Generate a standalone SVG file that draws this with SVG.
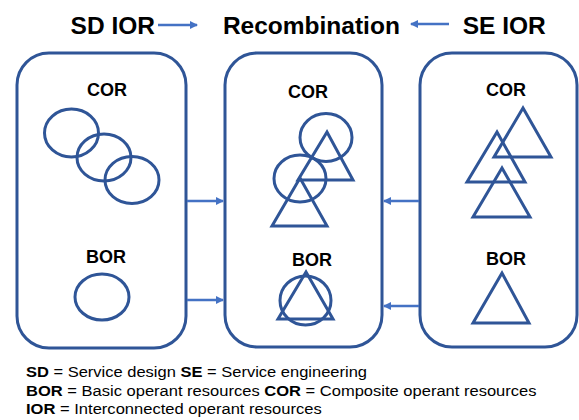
<svg xmlns="http://www.w3.org/2000/svg" width="579" height="420" viewBox="0 0 579 420">
<style>
.box{fill:#fff;stroke:#2F5597;stroke-width:3}
.sh{fill:none;stroke:#2F5597;stroke-width:3;stroke-linejoin:miter}
.lbl{font-family:"Liberation Sans",Arial,sans-serif;font-weight:bold;font-size:18px;fill:#000;text-anchor:middle}
.title{font-family:"Liberation Sans",Arial,sans-serif;font-weight:bold;font-size:24.5px;fill:#000;text-anchor:middle}
.note{font-family:"Liberation Sans",Arial,sans-serif;font-size:15.5px;fill:#000}
.note .b{font-weight:bold}
.con{stroke:#4472C4;stroke-width:2.5;fill:none}
</style>
<defs>
<marker id="ah" markerWidth="8" markerHeight="8" refX="7" refY="4" orient="auto" markerUnits="userSpaceOnUse">
<path d="M0,0 L8,4 L0,8 Z" fill="#4472C4"/>
</marker>
</defs>
<g id="titles">
<text class="title" x="112.8" y="34">SD IOR</text>
<text class="title" x="311.4" y="34">Recombination</text>
<text class="title" x="504.2" y="34">SE IOR</text>
</g>
<g id="node-sd">
<rect class="box" x="17" y="53" width="169" height="295" rx="32"/>
<text class="lbl" x="107" y="96">COR</text>
<ellipse class="sh" cx="71.5" cy="133" rx="27" ry="24"/>
<ellipse class="sh" cx="104" cy="157.5" rx="27" ry="23.5"/>
<ellipse class="sh" cx="132" cy="180" rx="27" ry="23.5"/>
<text class="lbl" x="106" y="263">BOR</text>
<ellipse class="sh" cx="102" cy="297" rx="27" ry="23"/>
</g>
<g id="node-recombination">
<rect class="box" x="225" y="53" width="157" height="294" rx="32"/>
<text class="lbl" x="308" y="98">COR</text>
<ellipse class="sh" cx="326" cy="137.5" rx="26" ry="24"/>
<path class="sh" d="M327,132 L298,180 L353,180 Z"/>
<ellipse class="sh" cx="300" cy="178.5" rx="26" ry="23.5"/>
<path class="sh" d="M300,178 L272,226 L327,226 Z"/>
<text class="lbl" x="312" y="266">BOR</text>
<ellipse class="sh" cx="305.5" cy="300.5" rx="25.5" ry="24.5"/>
<path class="sh" d="M306,272 L278,319 L333,319 Z"/>
</g>
<g id="node-se">
<rect class="box" x="420" y="53" width="157" height="294" rx="32"/>
<text class="lbl" x="506" y="96">COR</text>
<path class="sh" d="M523,108 L494,157 L551,157 Z"/>
<path class="sh" d="M497,132 L467,182 L525,182 Z"/>
<path class="sh" d="M502,168 L473,217 L530,217 Z"/>
<text class="lbl" x="506" y="265">BOR</text>
<path class="sh" d="M502,273 L473,323 L529,323 Z"/>
</g>
<g id="connectors">
<line class="con" x1="158" y1="25" x2="197" y2="25" marker-end="url(#ah)"/>
<line class="con" x1="449" y1="24" x2="411" y2="24" marker-end="url(#ah)"/>
<line class="con" x1="187" y1="201" x2="223" y2="201" marker-end="url(#ah)"/>
<line class="con" x1="187" y1="300" x2="223" y2="300" marker-end="url(#ah)"/>
<line class="con" x1="419" y1="201" x2="384" y2="201" marker-end="url(#ah)"/>
<line class="con" x1="419" y1="306" x2="384" y2="306" marker-end="url(#ah)"/>
</g>
<g id="legend">
<text class="note" x="26" y="377" textLength="341" lengthAdjust="spacingAndGlyphs"><tspan class="b">SD</tspan> = Service design <tspan class="b">SE</tspan> = Service engineering</text>
<text class="note" x="26" y="396" textLength="510.5" lengthAdjust="spacingAndGlyphs"><tspan class="b">BOR</tspan> = Basic operant resources <tspan class="b">COR</tspan> = Composite operant resources</text>
<text class="note" x="26" y="414" textLength="295.7" lengthAdjust="spacingAndGlyphs"><tspan class="b">IOR</tspan> = Interconnected operant resources</text>
</g>
</svg>
